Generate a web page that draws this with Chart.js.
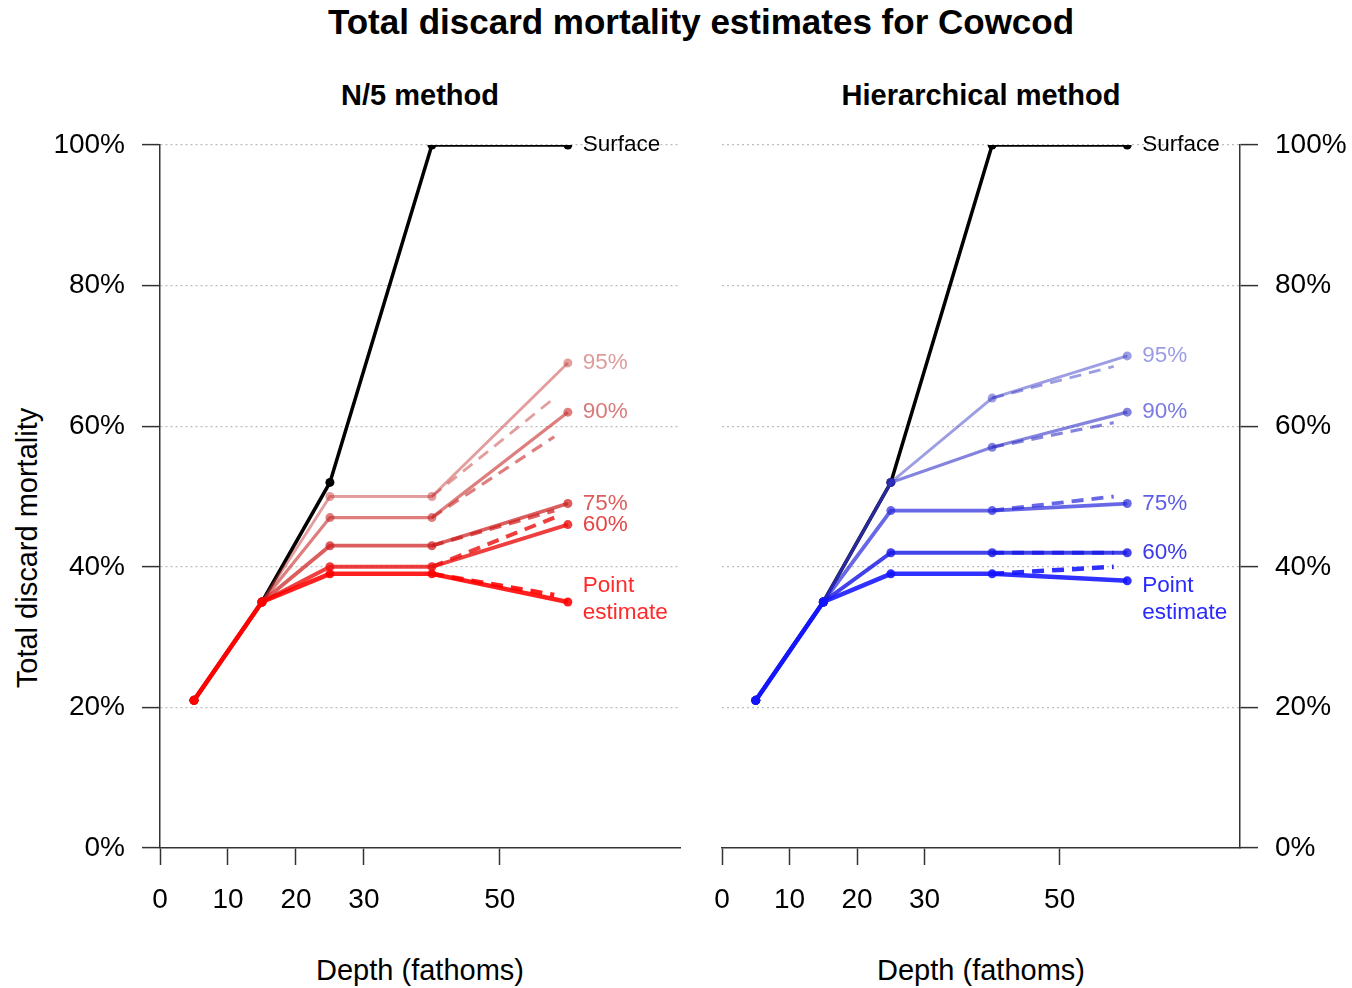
<!DOCTYPE html>
<html>
<head>
<meta charset="utf-8">
<title>Total discard mortality estimates for Cowcod</title>
<script src="https://cdn.jsdelivr.net/npm/chart.js@4.4.1/dist/chart.umd.min.js"></script>
<style>
  body { margin: 0; background: #fff; font-family: "Liberation Sans", Arial, sans-serif; }
  #wrap { position: relative; width: 1352px; height: 988px; overflow: hidden; background: #fff; }
  .txt { position: absolute; color: #000; white-space: nowrap; transform: translate(-50%, -50%); }
  .main { left: 701px; top: 22px; font-size: 35px; font-weight: bold; }
  .sub { top: 95px; font-size: 29px; font-weight: bold; }
  .axt { top: 970px; font-size: 29px; }
  .ylab { left: 27px; top: 548px; font-size: 29px; transform: translate(-50%, -50%) rotate(-90deg); }
  .box { position: absolute; top: 60px; height: 928px; }
</style>
</head>
<body>
<div id="wrap">
  <div class="txt main">Total discard mortality estimates for Cowcod</div>
  <div class="txt sub" style="left:420px">N/5 method</div>
  <div class="txt sub" style="left:981px">Hierarchical method</div>
  <div class="txt axt" style="left:420px">Depth (fathoms)</div>
  <div class="txt axt" style="left:981px">Depth (fathoms)</div>
  <div class="txt ylab">Total discard mortality</div>
  <div class="box" style="left:0;width:700px"><canvas id="n5" width="700" height="928"></canvas></div>
  <div class="box" style="left:700px;width:652px"><canvas id="hier" width="652" height="928"></canvas></div>
</div>
<script>
const depths = [5, 15, 25, 40, 60];
const dashDepths = [40, 58];
const xTicks = [0, 10, 20, 30, 50];
const yTicks = [0, 20, 40, 60, 80, 100];
const levels = ['Point estimate', '60%', '75%', '90%', '95%'];

const surface = [21, 35, 52, 100, 100];

// N/5 method
const n5Point = [21, 35, 39, 39, 35];
const n5Lvl60 = [21, 35, 40, 40, 46];
const n5Lvl75 = [21, 35, 43, 43, 49];
const n5Lvl90 = [21, 35, 47, 47, 62];
const n5Lvl95 = [21, 35, 50, 50, 69];
const n5DashPoint = [39, 36];
const n5Dash60 = [40, 47];
const n5Dash75 = [43, 48];
const n5Dash90 = [47, 58.5];
const n5Dash95 = [50, 64];
const n5LabelY = [37.3, 46, 49, 62, 69];

// Hierarchical method
const hierPoint = [21, 35, 39, 39, 38];
const hierLvl60 = [21, 35, 42, 42, 42];
const hierLvl75 = [21, 35, 48, 48, 49];
const hierLvl90 = [21, 35, 52, 57, 62];
const hierLvl95 = [21, 35, 52, 64, 70];
const hierDashPoint = [39, 40];
const hierDash60 = [42, 42];
const hierDash75 = [48, 50];
const hierDash90 = [57, 60.5];
const hierDash95 = [64, 68.5];
const hierLabelY = [37.3, 42, 49, 62, 70];

const widths = [4.5, 4, 3.8, 3.2, 2.8];
const redLines = ['rgba(255,0,0,0.88)', 'rgba(235,20,20,0.82)', 'rgba(205,30,30,0.72)', 'rgba(200,40,40,0.6)', 'rgba(200,60,60,0.5)'];
const redText = ['#ff2a2a', '#e64545', '#dd5c5c', '#d97a7a', '#dd9c9c'];
const blueLines = ['rgba(20,20,255,0.88)', 'rgba(25,25,230,0.82)', 'rgba(40,40,220,0.7)', 'rgba(50,50,200,0.6)', 'rgba(60,60,200,0.5)'];
const blueText = ['#2a2aff', '#3a3ae8', '#5c5ce6', '#7a7ae0', '#9c9ce6'];

const font = { family: '"Liberation Sans", Arial, sans-serif', size: 28 };
const axisCol = '#333';

function xy(xs, ys) {
  return xs.map((x, i) => ({ x: x, y: ys[i] }));
}

function buildDatasets(solid, dashed, cols) {
  const sets = [];
  solid.forEach((vals, i) => {
    sets.push({
      data: xy(depths, vals),
      borderColor: cols[i],
      backgroundColor: cols[i],
      borderWidth: widths[i],
      pointRadius: 4.5,
      pointBorderWidth: 0,
      order: i
    });
    sets.push({
      data: xy(dashDepths, dashed[i]),
      borderColor: cols[i],
      borderWidth: widths[i],
      borderDash: [12, 8],
      pointRadius: 0,
      order: i
    });
  });
  sets.push({
    data: xy(depths, surface),
    borderColor: '#000',
    backgroundColor: '#000',
    borderWidth: 3.5,
    pointRadius: 4.5,
    pointBorderWidth: 0,
    order: 10
  });
  return sets;
}

// text at the right end of each line
const endLabels = {
  id: 'endLabels',
  afterDatasetsDraw(chart, args, opts) {
    const { ctx, scales: { x, y } } = chart;
    const px = x.getPixelForValue(depths[depths.length - 1]) + 15;
    ctx.save();
    ctx.font = '22.5px "Liberation Sans", Arial, sans-serif';
    ctx.textBaseline = 'middle';
    ctx.textAlign = 'left';
    ctx.fillStyle = '#000';
    ctx.fillText('Surface', px, y.getPixelForValue(surface[surface.length - 1]));
    opts.labelY.forEach((v, i) => {
      ctx.fillStyle = opts.colors[i];
      const py = y.getPixelForValue(v);
      levels[i].split(' ').forEach((word, k) => ctx.fillText(word, px, py + k * 27));
    });
    ctx.restore();
  }
};

function buildScales(side) {
  return {
    x: {
      type: 'linear',
      min: 0,
      max: side === 'left' ? 76.5 : 76.7,
      afterBuildTicks: s => { s.ticks = xTicks.map(v => ({ value: v })); },
      afterFit: s => {
        s.height = 140;
        // keep the "0" label from pushing the plot area right
        s.paddingLeft = 0;
        s.paddingRight = 0;
      },
      grid: { drawOnChartArea: false, tickLength: 17, color: axisCol, tickColor: axisCol, tickWidth: 1.5 },
      border: { color: axisCol, width: 1.5 },
      ticks: { font: font, color: '#000', padding: 18, maxRotation: 0, autoSkip: false }
    },
    y: {
      type: 'linear',
      position: side,
      min: 0,
      max: 100,
      afterBuildTicks: s => { s.ticks = yTicks.map(v => ({ value: v })); },
      afterFit: s => { s.width = side === 'left' ? 160 : 112; },
      grid: {
        color: c => (c.tick && c.tick.value === 0) ? 'rgba(0,0,0,0)' : '#bdbdbd',
        lineWidth: 1.2,
        tickLength: 18,
        tickColor: axisCol,
        tickWidth: 1.5
      },
      border: { color: axisCol, width: 1.5, dash: [2, 3] },
      ticks: { font: font, color: '#000', padding: 17, callback: v => v + '%' }
    }
  };
}

function makeChart(id, datasets, side, padding, labelY, textCols) {
  return new Chart(document.getElementById(id), {
    type: 'line',
    data: { datasets: datasets },
    options: {
      responsive: false,
      animation: false,
      layout: { padding: padding },
      elements: { line: { tension: 0 } },
      scales: buildScales(side),
      plugins: {
        legend: { display: false },
        tooltip: { enabled: false },
        endLabels: { labelY: labelY, colors: textCols }
      }
    },
    plugins: [endLabels]
  });
}

makeChart('n5',
  buildDatasets([n5Point, n5Lvl60, n5Lvl75, n5Lvl90, n5Lvl95],
    [n5DashPoint, n5Dash60, n5Dash75, n5Dash90, n5Dash95], redLines),
  'left', { left: 0, right: 20, top: 85, bottom: 0 }, n5LabelY, redText);

makeChart('hier',
  buildDatasets([hierPoint, hierLvl60, hierLvl75, hierLvl90, hierLvl95],
    [hierDashPoint, hierDash60, hierDash75, hierDash90, hierDash95], blueLines),
  'right', { left: 22, right: 0, top: 85, bottom: 0 }, hierLabelY, blueText);
</script>
</body>
</html>
